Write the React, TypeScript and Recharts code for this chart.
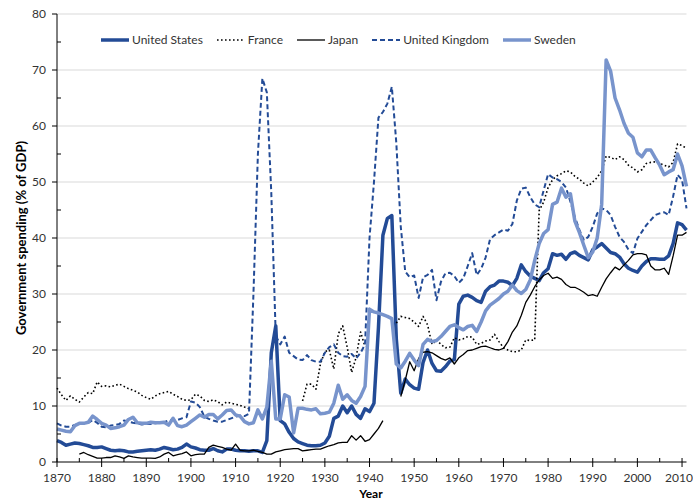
import { LineChart, Line, XAxis, YAxis, ReferenceLine, Legend } from 'recharts';

const START_YEAR = 1870;
const END_YEAR = 2011;
const YEARS = Array.from({ length: END_YEAR - START_YEAR + 1 }, (_, i) => START_YEAR + i);

// one row per decade, 1870s ... 2000s, then 2010-2011
const UNITED_STATES = [
  3.8, 3.5, 3.0, 3.2, 3.4, 3.3, 3.1, 2.9, 2.6, 2.6,
  2.7, 2.4, 2.1, 2.0, 2.1, 2.0, 1.8, 1.8, 1.9, 2.0,
  2.1, 2.2, 2.1, 2.3, 2.6, 2.4, 2.2, 2.3, 2.6, 3.2,
  2.7, 2.5, 2.2, 2.1, 2.1, 2.4, 2.0, 1.8, 2.3, 2.3,
  2.1, 2.0, 2.0, 1.9, 2.0, 2.0, 1.7, 3.8, 19.5, 24.3,
  7.4, 6.8, 5.3, 4.2, 3.6, 3.3, 3.0, 2.9, 2.9, 3.0,
  3.4, 4.6, 7.8, 8.2, 10.0, 8.8, 10.0, 8.5, 7.8, 9.5,
  9.0, 10.5, 24.0, 40.5, 43.5, 44.0, 22.0, 12.3, 14.8, 13.8,
  13.2, 13.0, 17.8, 20.0, 17.6, 16.3, 16.2, 17.0, 18.0, 18.3,
  28.2, 29.6, 29.8, 29.4, 28.8, 28.5, 30.5, 31.3, 31.6, 32.3,
  32.3, 32.1, 31.5, 32.8, 35.2, 34.0, 33.2, 32.8, 32.4, 33.8,
  34.5, 37.2, 36.9, 37.1, 36.2, 37.2, 37.5, 36.9, 36.5, 36.1,
  37.9, 38.4, 39.0, 38.2, 37.4, 37.2, 36.6, 35.4, 34.6, 34.2,
  33.9, 35.0, 35.8, 36.3, 36.3, 36.2, 36.2, 36.8, 39.0, 42.7,
  42.4, 41.4,
];

const FRANCE = [
  13.2, 12.0, 11.0, 11.8, 11.2, 10.7, 11.6, 12.4, 12.2, 14.3,
  13.5, 13.6, 13.4, 13.7, 13.9, 13.5, 13.1, 12.8, 12.5, 11.9,
  11.5, 11.2, 11.8, 12.2, 12.4, 12.6, 12.1, 11.7, 11.2, 11.0,
  11.1, 12.1, 11.8, 11.0, 10.8, 11.1, 10.8, 10.2, 10.7, 10.5,
  10.3, 10.1, 9.8, 9.5, null, null, null, null, null, null,
  null, null, null, null, null, 10.9, 13.9, 13.9, 13.0, 17.5,
  19.7, 20.0, 16.6, 22.9, 24.3, 20.5, 16.0, 18.7, 23.2, 20.6,
  null, null, null, null, null, null, 24.8, 26.0, 25.8, 25.6,
  25.0, 24.2, 26.0, 24.5, 21.0, 21.8, 21.0, 20.4, 20.5, 22.2,
  21.8, 22.0, 22.4, 22.3, 21.0, 21.2, 21.6, 21.8, 22.8, 21.5,
  20.4, 20.0, 19.7, 19.7, 20.0, 21.8, 21.7, 21.8, 44.9, 46.4,
  49.0, 50.4, 51.1, 51.5, 52.0, 51.8, 51.0, 50.5, 49.8, 49.3,
  50.0, 50.8, 52.0, 54.6, 54.4, 54.0, 54.5, 54.0, 53.0, 52.5,
  51.8, 52.2, 53.3, 53.5, 53.6, 53.3, 53.0, 52.7, 53.5, 56.8,
  56.5, 56.0,
];

const JAPAN = [
  null, null, null, null, null, 1.4, 1.7, 1.3, 1.0, 0.7,
  0.7, 0.8, 0.8, 1.1, 0.9, 0.65, 1.1, 0.9, 0.8, 0.7,
  0.7, 0.7, 0.65, 0.9, 1.4, 1.7, 1.1, 1.3, 1.5, 1.8,
  1.1, 1.3, 1.4, 1.4, 2.6, 3.0, 2.8, 2.6, 2.3, 2.1,
  3.2, 2.1, 2.0, 2.0, 2.1, 1.9, 1.7, 1.4, 1.4, 1.8,
  2.0, 2.2, 2.3, 2.4, 2.4, 2.0, 2.1, 2.2, 2.3, 2.3,
  2.6, 2.9, 3.1, 3.4, 3.5, 3.5, 4.7, 3.9, 4.7, 3.7,
  4.0, 5.0, 6.0, 7.4, null, null, null, 11.7, 14.6, 17.9,
  16.3, 18.5, 19.6, 19.7, 19.5, 19.0, 18.5, 18.2, 18.6, 17.5,
  18.6, 19.2, 19.9, 20.0, 20.3, 20.6, 20.7, 20.4, 20.1, 20.0,
  20.3, 21.5, 23.2, 24.3, 26.2, 28.5, 29.8, 31.3, 32.5, 33.3,
  33.7, 32.8, 33.0, 32.6, 31.7, 31.2, 31.2, 30.8, 30.3, 29.7,
  29.9, 29.6, 31.2, 32.7, 33.8, 34.8, 34.3, 35.2, 36.0, 37.0,
  37.2, 37.2, 37.0, 35.0, 34.3, 34.3, 34.6, 33.5, 36.8, 40.5,
  40.5, 41.0,
];

const UNITED_KINGDOM = [
  6.9, 6.5, 6.3, 6.3, 6.6, 6.8, 6.9, 7.0, 7.5, 7.0,
  6.3, 6.2, 6.5, 6.6, 6.8, 7.4, 7.2, 7.0, 6.9, 6.7,
  6.8, 6.8, 6.9, 7.0, 7.1, 7.4, 7.5, 7.5, 7.8, 8.0,
  10.8, 10.6, 9.8, 8.1, 7.7, 7.4, 7.2, 7.2, 7.5, 7.8,
  8.1, 8.3, 8.2, 8.6, 30.0, 55.0, 68.5, 66.0, 48.0, 22.5,
  21.0, 22.4, 19.5, 18.9, 18.3, 18.2, 19.1, 18.2, 17.9, 17.9,
  19.5, 20.5, 21.0, 19.5, 18.9, 18.8, 19.3, 18.5, 19.5, 21.0,
  40.0, 50.0, 61.5, 62.5, 64.0, 67.0, 57.0, 42.0, 34.0, 33.0,
  33.3, 29.3, 33.0, 33.4, 34.3, 28.9, 32.2, 33.7, 33.8, 33.2,
  32.0, 32.8, 35.0, 37.3, 33.4, 34.5, 36.5, 39.8, 40.5, 41.0,
  41.5, 41.3, 42.5, 46.7, 48.8, 49.0, 47.3, 46.0, 45.5, 48.5,
  51.4, 50.8, 50.5, 50.0, 49.0, 46.5, 43.7, 41.5, 39.6, 40.2,
  42.0, 44.4, 45.3, 45.0, 44.1, 42.0, 40.2, 39.3, 37.9, 37.3,
  39.9, 41.1, 42.3, 43.2, 44.1, 44.4, 44.6, 44.1, 47.4, 51.3,
  50.4, 45.3,
];

const SWEDEN = [
  5.9, 5.7, 5.5, 5.4, 6.5, 6.9, 6.9, 7.1, 8.2, 7.6,
  6.9, 6.6, 6.0, 6.1, 6.3, 6.6, 7.6, 8.0, 7.0, 6.9,
  6.9, 7.1, 7.0, 7.0, 7.1, 6.6, 7.8, 6.5, 6.3, 6.6,
  7.2, 7.8, 8.4, 8.0, 8.5, 8.5, 7.7, 8.4, 9.2, 9.3,
  8.4, 8.2, 7.2, 6.8, 7.0, 9.3, 7.7, 9.8, 18.0, 7.7,
  7.7, 12.0, 11.6, 5.2, 9.6, 9.6, 9.4, 9.3, 9.5, 8.6,
  8.7, 8.9, 10.5, 13.7, 11.2, 12.0, 11.0, 10.5, 11.7, 13.5,
  27.3, 26.8, 26.6, 26.3, 26.0, 25.6, 17.5, 16.8, 18.0, 19.4,
  18.2, 17.2, 21.0, 21.9, 21.5, 21.7, 22.4, 23.3, 24.2, 24.5,
  24.0, 23.6, 24.2, 24.4, 23.3, 25.0, 27.0, 28.0, 28.6, 29.2,
  30.0, 30.5, 31.6, 30.6, 30.1, 30.8, 32.5, 36.0, 39.0, 40.8,
  41.5, 46.0, 46.4, 48.9, 47.3, 47.9, 43.0, 41.0, 38.7, 36.5,
  37.5, 40.0, 46.0, 71.8, 69.8, 65.0, 62.9, 60.5, 58.7, 58.0,
  55.2, 54.5, 55.7, 55.7, 54.3, 53.0, 51.3, 51.8, 52.2, 55.0,
  52.9, 49.2,
];

const X_TICKS = Array.from({ length: 29 }, (_, i) => 1870 + i * 5);
const Y_TICKS = Array.from({ length: 17 }, (_, i) => i * 5);
const Y_GRID = [10, 20, 30, 40, 50, 60, 70, 80];

const DARK_BLUE = '#234b96';
const LIGHT_BLUE = '#7894cc';
const FONT = 'Lato, "Open Sans", sans-serif';
const CHART_W = 693;
const CHART_H = 501;

const SERIES = [
  { key: 'us', name: 'United States', color: DARK_BLUE, width: 3.5, dash: undefined },
  { key: 'france', name: 'France', color: '#000', width: 1.6, dash: '1.6 2.4' },
  { key: 'japan', name: 'Japan', color: '#000', width: 1.3, dash: undefined },
  { key: 'uk', name: 'United Kingdom', color: DARK_BLUE, width: 2, dash: '5 3' },
  { key: 'sweden', name: 'Sweden', color: LIGHT_BLUE, width: 3.5, dash: undefined },
];

const data = YEARS.map((year, i) => ({
  year,
  us: UNITED_STATES[i],
  france: FRANCE[i],
  japan: JAPAN[i],
  uk: UNITED_KINGDOM[i],
  sweden: SWEDEN[i],
}));

function XTick(props: any) {
  const { x, y, payload } = props;
  const major = payload.value % 10 === 0;
  // keep the last label inside the picture
  const labelX = Math.min(x, CHART_W - 14);
  return (
    <g>
      <line x1={x} x2={x} y1={y - 4} y2={major ? y + 5 : y} stroke="#000" strokeWidth={1} />
      {major && (
        <text x={labelX} y={y + 20} textAnchor="middle" fontSize={12} fill="#333" fontFamily={FONT}>
          {payload.value}
        </text>
      )}
    </g>
  );
}

function YTick(props: any) {
  const { x, y, payload } = props;
  const major = payload.value % 10 === 0;
  return (
    <g>
      <line x1={major ? x - 5 : x} x2={major ? x : x + 4} y1={y} y2={y} stroke="#000" strokeWidth={1} />
      {major && (
        <text x={x - 11} y={y + 4} textAnchor="end" fontSize={12} fill="#333" fontFamily={FONT}>
          {payload.value}
        </text>
      )}
    </g>
  );
}

function LegendContent() {
  return (
    <div style={{ display: 'flex', alignItems: 'center', fontFamily: FONT, fontSize: 12, color: '#333' }}>
      {SERIES.map((s) => (
        <div key={s.key} style={{ display: 'flex', alignItems: 'center', marginRight: 14 }}>
          <svg width={28} height={8}>
            <line
              x1={0}
              x2={28}
              y1={4}
              y2={4}
              stroke={s.color}
              strokeWidth={s.width}
              strokeDasharray={s.dash}
            />
          </svg>
          <span style={{ marginLeft: 3, whiteSpace: 'nowrap' }}>{s.name}</span>
        </div>
      ))}
    </div>
  );
}

export default function App() {
  return (
    <div style={{ position: 'absolute', left: 0, top: 0, width: CHART_W, height: CHART_H, overflow: 'hidden', background: '#fff' }}>
      <LineChart width={CHART_W} height={CHART_H} data={data} margin={{ top: 14, right: 6.5, bottom: 0, left: 0 }}>
        <XAxis
          dataKey="year"
          type="number"
          domain={[START_YEAR, END_YEAR]}
          ticks={X_TICKS}
          interval={0}
          height={39}
          tickSize={0}
          tickMargin={0}
          tickLine={false}
          axisLine={{ stroke: '#000' }}
          tick={XTick}
        />
        <YAxis
          type="number"
          domain={[0, 80]}
          ticks={Y_TICKS}
          interval={0}
          width={57}
          tickSize={0}
          tickMargin={0}
          tickLine={false}
          axisLine={{ stroke: '#000' }}
          tick={YTick}
        />
        {Y_GRID.map((v) => (
          <ReferenceLine key={v} y={v} stroke="#d9d9d9" strokeWidth={1.2} />
        ))}
        <Legend
          verticalAlign="middle"
          align="center"
          layout="horizontal"
          wrapperStyle={{ top: 32, left: 101, width: 560, height: 16 }}
          content={LegendContent}
        />
        {SERIES.map((s) => (
          <Line
            key={s.key}
            dataKey={s.key}
            name={s.name}
            stroke={s.color}
            strokeWidth={s.width}
            strokeDasharray={s.dash}
            strokeLinejoin="round"
            dot={false}
            activeDot={false}
            isAnimationActive={false}
          />
        ))}
      </LineChart>
      <div
        style={{
          position: 'absolute',
          left: 21,
          top: 238,
          transform: 'translate(-50%, -50%) rotate(-90deg)',
          whiteSpace: 'nowrap',
          fontFamily: FONT,
          fontWeight: 700,
          fontSize: 13,
          color: '#000',
        }}
      >
        Government spending (% of GDP)
      </div>
      <div
        style={{
          position: 'absolute',
          left: 371,
          top: 487,
          transform: 'translateX(-50%)',
          fontFamily: FONT,
          fontWeight: 700,
          fontSize: 12,
          lineHeight: '13px',
          color: '#000',
        }}
      >
        Year
      </div>
    </div>
  );
}
